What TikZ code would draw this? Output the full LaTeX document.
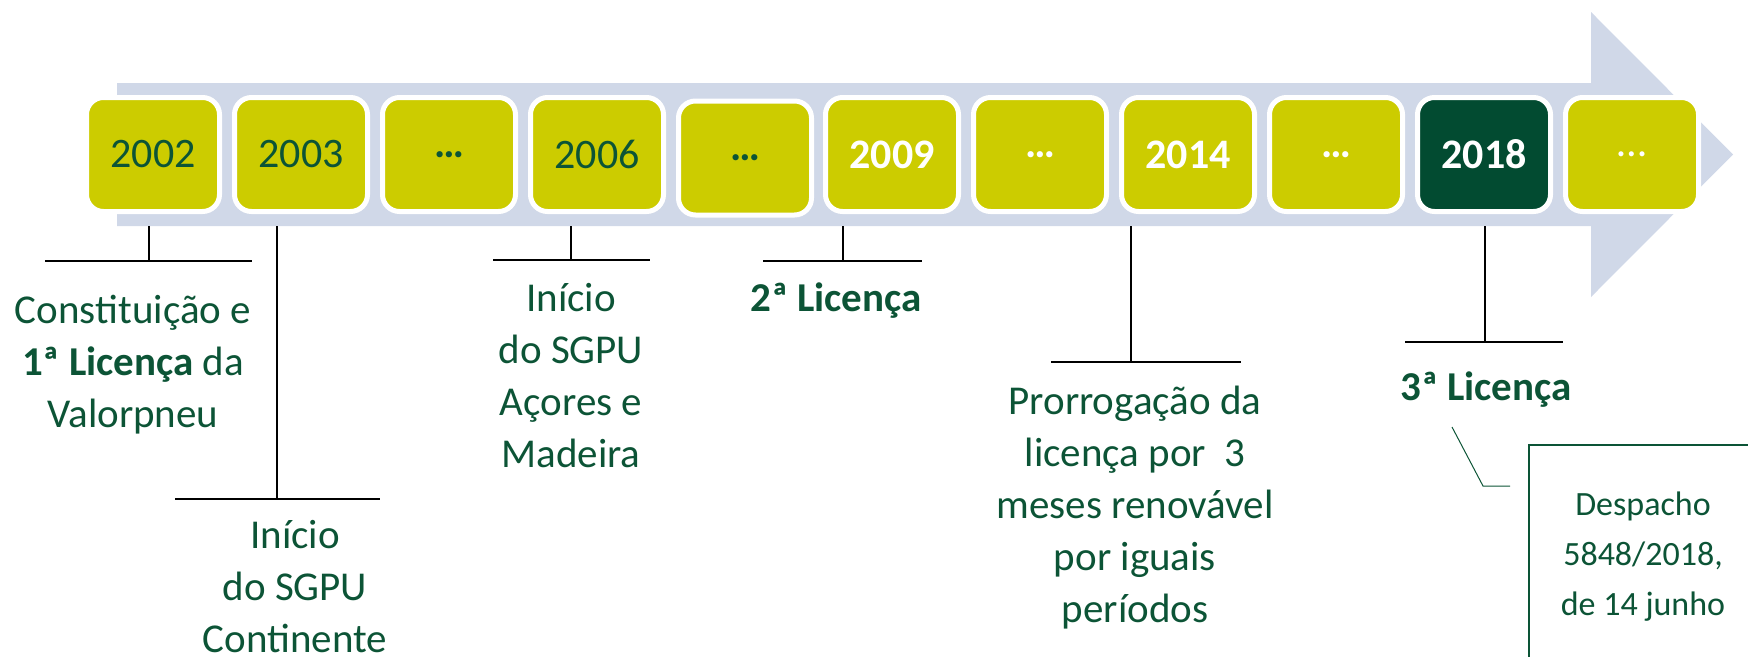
\documentclass[tikz,border=0pt]{standalone}
\usepackage{fontspec}
\setmainfont{Carlito}
\definecolor{bandblue}{RGB}{208,216,232}
\definecolor{limefill}{RGB}{204,204,0}
\definecolor{pinegreen}{RGB}{2,75,49}
\definecolor{txtgreen}{RGB}{12,84,54}
\tikzset{
 yearbox/.style={draw=white, line width=5pt, rounded corners=17pt, fill=limefill,
   minimum width=133pt, minimum height=114pt, inner sep=0pt,
   font=\fontsize{42}{50}\selectfont, text=txtgreen},
 hotbox/.style={yearbox, font=\fontsize{42}{50}\selectfont\bfseries, text=white},
 tick/.style={line width=1.6pt, black},
 event/.style={anchor=base, align=center, inner sep=0pt, text=txtgreen,
   font=\fontsize{41}{52}\selectfont},
}
% one tick under the band: name, x, foot y, half-width left, half-width right
\newcommand{\marker}[5]{%
 \coordinate ({#1}) at (#2,#3);%
 \coordinate ({#1}top) at (#2,226);%
 \draw[tick] ({#1}top) -- ({#1});%
 \draw[tick] ([xshift=-#4pt]{#1}) -- ([xshift=#5pt]{#1});%
}
\begin{document}
\begin{tikzpicture}[x=1pt,y=-1pt]
  \useasboundingbox (0,0) rectangle (1748,656);
  % band arrow
  \fill[bandblue] (117,83) -- (1591,83) -- (1591,12) -- (1733,154.5)
     -- (1591,297) -- (1591,226) -- (117,226) -- cycle;
  % years
  \node[yearbox] (y02) at (153,154.5) {2002};
  \node[yearbox] (y03) at (301,154.5) {2003};
  \node[yearbox, font=\fontsize{42}{50}\selectfont\bfseries] (g1) at (449,154.5) {…};
  \node[yearbox] (y06) at (597,154.5) {2006};
  \node[yearbox, font=\fontsize{42}{50}\selectfont\bfseries] (g2) at (745,158) {…};
  \node[hotbox] (y09) at (892,154.5) {2009};
  \node[hotbox] (g3) at (1040,154.5) {…};
  \node[hotbox] (y14) at (1188,154.5) {2014};
  \node[hotbox] (g4) at (1336,154.5) {…};
  \node[hotbox, fill=pinegreen] (y18) at (1484,154.5) {2018};
  \node[yearbox, text=white] (g5) at (1632,154.5) {…};
  % ticks
  \marker{k02}{149}{261}{104}{103}
  \marker{k03}{277}{499}{102}{103}
  \marker{k06}{571}{260}{78}{79}
  \marker{k09}{843}{261}{80}{79}
  \marker{k14}{1131}{362}{80}{110}
  \marker{k18}{1485}{342}{80}{78}
  % events (anchored at the last baseline)
  \node[event] (e02) at (133,427) {Constituição e\\\textbf{1ª Licença} da\\Valorpneu};
  \node[event] (e03) at (295,652) {Início\\do SGPU\\Continente};
  \node[event] (e06) at (571,467) {Início\\do SGPU\\Açores e\\Madeira};
  \node[event, font=\fontsize{41}{52}\selectfont\bfseries] (e09) at (836,311) {2ª Licença};
  \node[event] (e14) at (1135,622) {Prorrogação da\\licença por~ 3\\meses renovável\\por iguais\\períodos};
  \node[event, font=\fontsize{41}{52}\selectfont\bfseries] (e18) at (1486,400) {3ª Licença};
  % callout
  \draw[txtgreen, line width=1.3pt] (1529,700) -- (1529,445) -- (1760,445);
  \node[event, font=\fontsize{34}{50}\selectfont] (desp) at (1643,615) {Despacho\\5848/2018,\\de 14 junho};
  \coordinate (bend) at (1483,486);
  \draw[txtgreen, line width=1pt] (1452,427) -- (bend) -- (1510,486);
\end{tikzpicture}
\end{document}
